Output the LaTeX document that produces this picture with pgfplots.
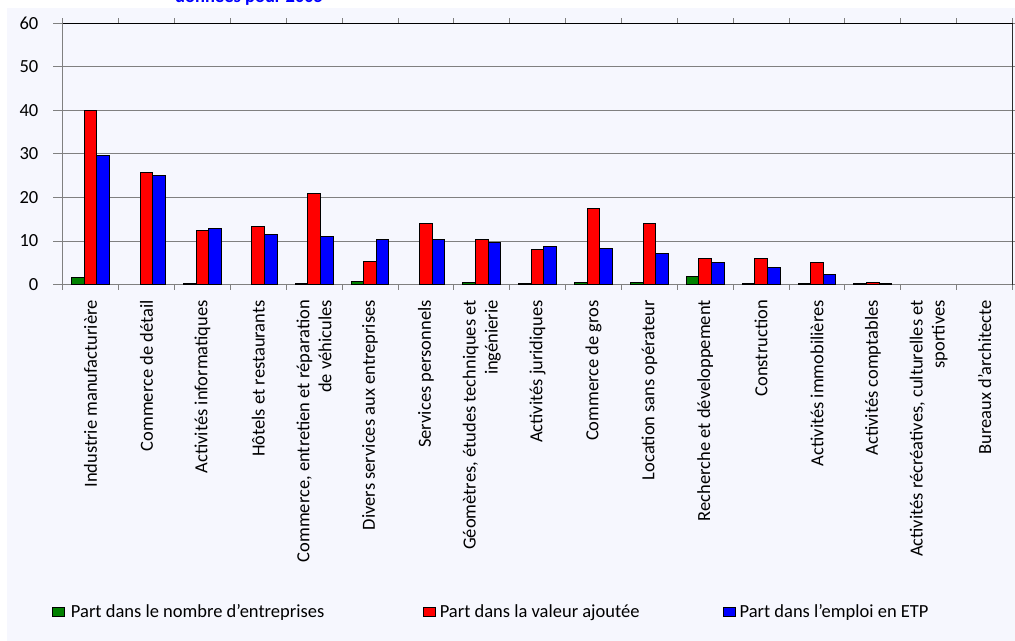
\documentclass[border=0pt]{standalone}
\usepackage{fontspec}
\setmainfont{Carlito}
\usepackage{pgfplots}
\pgfplotsset{compat=1.18}
\definecolor{bgl}{RGB}{246,247,254}
\definecolor{gridg}{RGB}{128,128,128}
\definecolor{bgreen}{RGB}{0,128,0}
\definecolor{bred}{RGB}{255,0,0}
\definecolor{bblue}{RGB}{0,0,255}
\newcommand{\cf}{\fontsize{18.5bp}{22bp}\selectfont}
\begin{document}
\begin{tikzpicture}
\useasboundingbox (0bp,0bp) rectangle (1015bp,641bp);
\clip (0bp,0bp) rectangle (1015bp,641bp);
\fill[bgl] (7bp,0bp) rectangle (1015bp,633bp);
\node[anchor=base west, inner sep=0pt, text=bblue, font=\bfseries\cf] at (175bp,638bp) {données pour 2005};
\begin{axis}[
  at={(62.7bp,356.5bp)}, anchor=south west,
  scale only axis, width=949.8bp, height=261.5bp,
  xmin=-0.5, xmax=16.5, ymin=0, ymax=60,
  ybar=0pt, bar width=12.6bp,
  ytick={0,10,...,60},
  xtick={0,...,16},
  xticklabels={Industrie manufacturière, Commerce de détail, Activités informatiques, Hôtels et restaurants, {Commerce, entretien et réparation\\de véhicules}, Divers services aux entreprises, Services personnels, {Géomètres, études techniques et\\ingénierie}, Activités juridiques, Commerce de gros, Location sans opérateur, Recherche et développement, Construction, Activités immobilières, Activités comptables, {Activités récréatives, culturelles et\\sportives}, Bureaux d’architecte},
  minor xtick={-0.5,0.5,...,16.5},
  tick align=outside,
  major tick length=9.5bp,
  minor tick length=5bp,
  major x tick style={draw=none},
  minor x tick style={gridg, line width=0.8bp},
  ytick style={gridg, line width=0.8bp},
  ymajorgrids,
  major grid style={gridg, line width=0.8bp},
  axis line style={black, line width=1bp},
  y axis line style={gridg, line width=0.8bp},
  /pgf/number format/assume math mode=true,
  yticklabel style={font=\cf, inner sep=0pt, xshift=-14.7bp},
  xticklabel style={rotate=90, anchor=east, align=right, font=\cf, inner xsep=6bp, inner ysep=0pt},
  legend columns=3,
  legend style={at={(-0.01127,-1.2524)}, anchor=west, draw=none, fill=none, inner sep=0pt, font=\cf,
    nodes={inner sep=0pt},
    /tikz/every even column/.style={column sep=0pt}},
  legend image code/.code={\draw[#1, line width=0.8bp] (0bp,-4.5bp) rectangle (12bp,4.5bp);},
]
\addplot[fill=bgreen, draw=black, line width=0.9bp] coordinates {
 (0,1.6) (2,0.2) (4,0.2) (5,0.76) (7,0.55) (8,0.3) (9,0.5) (10,0.5) (11,1.8) (12,0.2) (13,0.2) (14,0.2)};
\addplot[fill=bred, draw=black, line width=0.9bp] coordinates {
 (0,40.0) (1,25.7) (2,12.4) (3,13.3) (4,20.9) (5,5.3) (6,13.9) (7,10.3) (8,8.0) (9,17.5) (10,13.9) (11,6.0) (12,6.0) (13,5.0) (14,0.46)};
\addplot[fill=bblue, draw=black, line width=0.9bp] coordinates {
 (0,29.6) (1,25.0) (2,12.9) (3,11.5) (4,11.0) (5,10.3) (6,10.3) (7,9.6) (8,8.8) (9,8.2) (10,7.2) (11,5.0) (12,3.9) (13,2.3) (14,0.2)};
\addlegendentry{\hspace{6bp}\makebox[352bp][l]{Part dans le nombre d’entreprises}}
\addlegendentry{\hspace{4bp}\makebox[283bp][l]{Part dans la valeur ajoutée}}
\addlegendentry{\hspace{4bp}Part dans l’emploi en ETP}
\draw[black, line width=1bp] (rel axis cs:1,0) -- (rel axis cs:1,1);
\draw[black, line width=1bp] (rel axis cs:0,1) -- (rel axis cs:1,1);
\end{axis}
\end{tikzpicture}
\end{document}
